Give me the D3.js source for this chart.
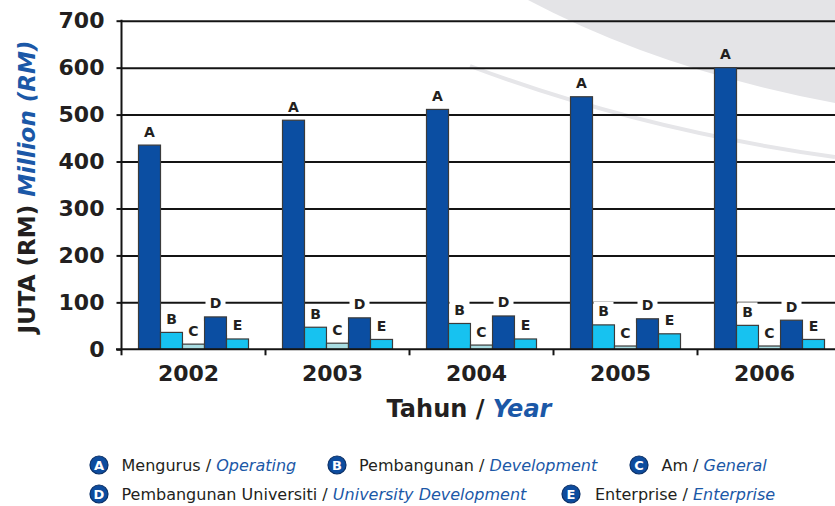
<!DOCTYPE html>
<html>
<head>
<meta charset="utf-8">
<script src="https://cdn.jsdelivr.net/npm/d3@7"></script>
<style>
  html, body { margin: 0; padding: 0; background: #ffffff; }
  svg { display: block; font-family: "DejaVu Sans", Verdana, sans-serif; }
</style>
</head>
<body>
<svg id="chart" width="835" height="506"></svg>
<script>
// ---------- data ----------
const years = ["2002", "2003", "2004", "2005", "2006"];
const seriesKeys = ["A", "B", "C", "D", "E"];
const operating = [435, 488, 511, 538, 600];              // A
const development = [36, 47, 55, 52, 51];                 // B
const general = [11, 13, 9, 7, 7];                        // C
const universityDevelopment = [69, 67, 71, 65, 62];       // D
const enterprise = [22, 21, 22, 33, 21];                  // E
const yTicks = [0, 100, 200, 300, 400, 500, 600, 700];
const legendMalay = ["Mengurus", "Pembangunan", "Am", "Pembangunan Universiti", "Enterprise"];
const legendEnglish = ["Operating", "Development", "General", "University Development", "Enterprise"];

const seriesValues = [operating, development, general, universityDevelopment, enterprise];
const seriesColors = ["#0b4ea2", "#17c2f0", "#a9dde3", "#0b4ea2", "#17c2f0"];

const DARK = "#231f20";
const BLUE = "#1b58a7";

const svg = d3.select("#chart");

// ---------- decorative background ----------
svg.append("path")
  .attr("d", "M528,0 Q660,70 835,103 L835,0 Z")
  .attr("fill", "#e4e4e7");
svg.append("path")
  .attr("d", "M470,66 Q640,130 835,157")
  .attr("fill", "none")
  .attr("stroke", "#e6e6e9")
  .attr("stroke-width", 4);

// ---------- scales ----------
const plotLeft = 121.5, plotBottom = 349.3, plotTop = 20.7;
const x0 = d3.scaleBand().domain(years).range([plotLeft, plotLeft + 5 * 144]).padding(0);
const x1 = d3.scaleBand().domain(seriesKeys).range([0, x0.bandwidth()])
  .paddingInner(0).paddingOuter(0.7727);
const y = d3.scaleLinear().domain([0, 700]).range([plotBottom, plotTop]);

// ---------- gridlines ----------
const grid = svg.append("g")
  .attr("transform", `translate(${plotLeft},0)`)
  .call(d3.axisRight(y).tickValues(yTicks.filter(d => d > 0)).tickSize(835 - plotLeft).tickFormat(""));
grid.select(".domain").remove();
grid.selectAll(".tick line").attr("stroke", "#141414").attr("stroke-width", 2);

// ---------- bars ----------
const rows = [];
years.forEach((yr, i) => {
  seriesKeys.forEach((k, j) => rows.push({ year: yr, key: k, value: seriesValues[j][i], color: seriesColors[j] }));
});

svg.append("g").selectAll("rect")
  .data(rows)
  .join("rect")
  .attr("x", d => x0(d.year) + x1(d.key))
  .attr("y", d => y(d.value))
  .attr("width", x1.bandwidth())
  .attr("height", d => y(0) - y(d.value))
  .attr("fill", d => d.color)
  .attr("stroke", "#3b3b3b")
  .attr("stroke-width", 1.2);

// ---------- bar labels ----------
const lab = svg.append("g").selectAll("g")
  .data(rows)
  .join("g");
lab.filter(d => d.key !== "A").append("rect")
  .attr("x", d => x0(d.year) + x1(d.key) + 1)
  .attr("y", d => y(d.value) - 23)
  .attr("width", x1.bandwidth() - 2)
  .attr("height", 19)
  .attr("fill", "#ffffff");
lab.append("text")
  .attr("x", d => x0(d.year) + x1(d.key) + x1.bandwidth() / 2)
  .attr("y", d => y(d.value) - 8.5)
  .attr("text-anchor", "middle")
  .attr("font-size", 14)
  .attr("font-weight", "bold")
  .attr("fill", DARK)
  .text(d => d.key);

// ---------- y axis ----------
const yAxis = svg.append("g")
  .attr("transform", `translate(${plotLeft},0)`)
  .call(d3.axisLeft(y).tickValues(yTicks).tickSize(5).tickPadding(12));
yAxis.select(".domain").attr("stroke", "#141414").attr("stroke-width", 2)
  .attr("d", `M0,${plotTop - 1}V${plotBottom}`);
yAxis.selectAll(".tick line").attr("stroke", "#141414").attr("stroke-width", 2);
yAxis.selectAll(".tick text")
  .attr("font-family", "DejaVu Sans, sans-serif")
  .attr("font-size", 22).attr("font-weight", "bold").attr("fill", DARK);

// ---------- x axis ----------
const xAxis = svg.append("g").attr("transform", `translate(0,${plotBottom})`);
xAxis.append("line")
  .attr("x1", 116).attr("x2", 835).attr("y1", 0).attr("y2", 0)
  .attr("stroke", "#141414").attr("stroke-width", 2);
xAxis.selectAll("line.tk")
  .data(years)
  .join("line")
  .attr("class", "tk")
  .attr("x1", d => x0(d)).attr("x2", d => x0(d))
  .attr("y1", 0).attr("y2", 6)
  .attr("stroke", "#141414").attr("stroke-width", 2);
xAxis.selectAll("text")
  .data(years)
  .join("text")
  .attr("x", d => x0(d) + x0.bandwidth() / 2 - 5)
  .attr("y", 32)
  .attr("text-anchor", "middle")
  .attr("font-size", 22).attr("font-weight", "bold").attr("fill", DARK)
  .text(d => d);

// ---------- axis titles ----------
const xt = svg.append("text")
  .attr("x", 469).attr("y", 417)
  .attr("text-anchor", "middle")
  .attr("font-size", 24).attr("font-weight", "bold");
xt.append("tspan").attr("fill", DARK).text("Tahun / ");
xt.append("tspan").attr("fill", BLUE).attr("font-style", "italic").text("Year");

const yt = svg.append("text")
  .attr("transform", "translate(35,187) rotate(-90)")
  .attr("text-anchor", "middle")
  .attr("font-size", 23).attr("font-weight", "bold");
yt.append("tspan").attr("fill", DARK).text("JUTA (RM) ");
yt.append("tspan").attr("fill", BLUE).attr("font-style", "italic").text("Million (RM)");

// ---------- legend ----------
const legendPos = [
  { cx: 99, cy: 465, tx: 121.5 },
  { cx: 337, cy: 465, tx: 359 },
  { cx: 639, cy: 465, tx: 661.5 },
  { cx: 99, cy: 494, tx: 121.5 },
  { cx: 571, cy: 494, tx: 595 }
];
const leg = svg.append("g").selectAll("g")
  .data(seriesKeys)
  .join("g");
leg.append("circle")
  .attr("cx", (d, i) => legendPos[i].cx)
  .attr("cy", (d, i) => legendPos[i].cy)
  .attr("r", 9)
  .attr("fill", "#0d4c9e")
  .attr("stroke", "#0a2f66")
  .attr("stroke-width", 1.2);
leg.append("text")
  .attr("x", (d, i) => legendPos[i].cx)
  .attr("y", (d, i) => legendPos[i].cy + 5)
  .attr("text-anchor", "middle")
  .attr("font-size", 13).attr("font-weight", "bold").attr("fill", "#ffffff")
  .text(d => d);
const lt = leg.append("text")
  .attr("x", (d, i) => legendPos[i].tx)
  .attr("y", (d, i) => legendPos[i].cy + 6)
  .attr("font-size", 16);
lt.append("tspan").attr("fill", DARK).text((d, i) => legendMalay[i] + " / ");
lt.append("tspan").attr("fill", BLUE).attr("font-style", "italic").text((d, i) => legendEnglish[i]);
</script>
</body>
</html>
